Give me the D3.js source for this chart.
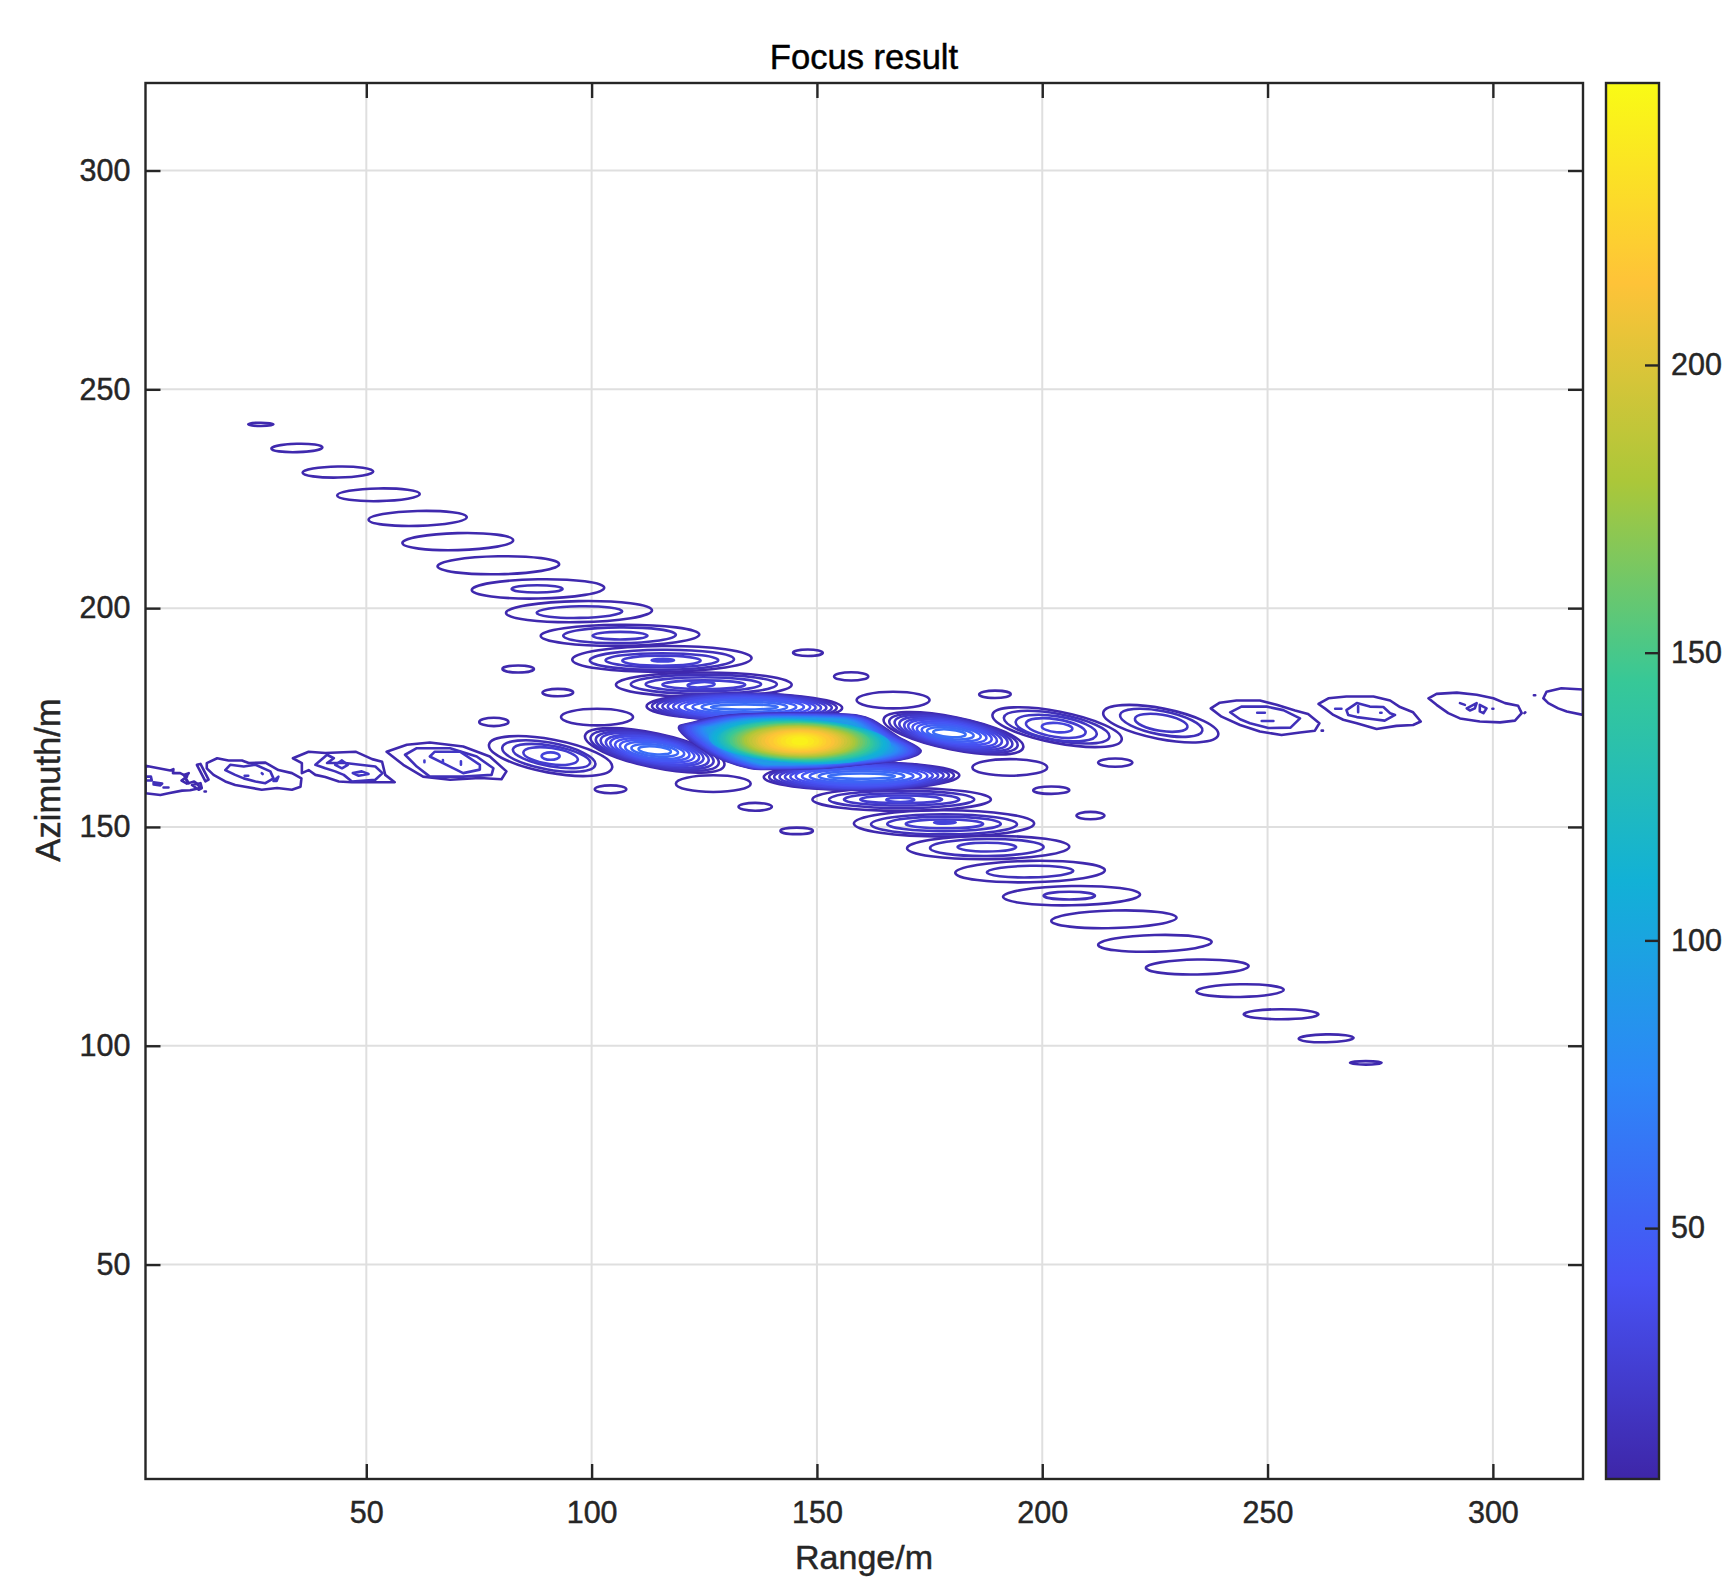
<!DOCTYPE html>
<html>
<head>
<meta charset="utf-8">
<title>Focus result</title>
<script src="https://cdn.jsdelivr.net/npm/d3@7"></script>
<style>
  body { margin: 0; background: #fff; }
  text { font-family: "Liberation Sans", Arial, sans-serif; fill: #262626; stroke: #262626; stroke-width: .45; }
</style>
</head>
<body>
<svg id="chart" width="1735" height="1592"></svg>
<script>
/** Axis ticks and colour limits */
const xTicks = [50, 100, 150, 200, 250, 300];
const yTicks = [50, 100, 150, 200, 250, 300];
const barTicks = [50, 100, 150, 200];
const axisLimits = [1, 320];
const levelLimits = [6.4, 249];
const parulaStops = ["#3e26a8", "#4752f4", "#2d87f7", "#12b1d6", "#37c897", "#abc739", "#fec338", "#f9fb15"];

/** Main lobe, read ring by ring from the centre outwards */
const mainCentre = [146.2, 169.6];
const mainLevels = [243,238,233,228,223,218,213,208,204,199,194,189,184,179,174,169,164,159,155,150,145,140,135,130,125,120,115,110,106,101,96,91,86,81,76,71,66,61,57,52,47,42,37,32,27,22,17,12];
const mainHalfRange = [1.6,2.9,4,4.8,5.6,6.7,7.5,8.3,9,9.6,10.3,11,11.5,12.1,12.6,13.1,13.7,14.2,14.7,15.3,15.7,16.1,16.5,16.9,17.4,17.8,18.2,18.8,19.2,19.6,20,20.4,20.8,21.2,21.6,22,22.5,22.9,23.3,23.7,24.1,24.7,25.1,25.5,25.9,26.3,26.5,26.8];
const mainHalfAzimuth = [.62,.99,1.3,1.55,1.8,2.05,2.23,2.42,2.6,2.73,2.91,3.04,3.16,3.29,3.41,3.53,3.66,3.78,3.84,3.97,4.03,4.15,4.22,4.34,4.4,4.46,4.59,4.65,4.71,4.77,4.84,4.96,5.02,5.08,5.15,5.27,5.33,5.39,5.52,5.58,5.64,5.77,5.83,5.89,6.01,6.08,6.14,6.2];
const mainTilt = [.5,.5,.5,.5,.5,.5,.5,.5,.5,.5,.5,1,1,1,1,1,1,1,1,1,2,2,2,2,2,2,2,2,3,3,3,3,3,3,3,4,4,4,4,4,4,4,5.5,5.5,5.5,5.5,5.5,5.5];
// outline of the lower main lobe rings, as fractions of the half sizes (right, up)
const mainOutlineLevel = 91;
const mainOutline = [[-1,.475],[-.9,.66],[-.65,.91],[-.29,1.01],[.15,1.01],[.48,.94],[.62,.72],[.81,.16],[1,-.34],[.86,-.65],[.59,-.81],[.17,-.99],[-.24,-1.02],[-.41,-.99],[-.65,-.65],[-.85,-.15]];
const mainFillFloor = 30;

/** Rings as [level, range, azimuth, half range, half azimuth, tilt] */
const upperArmRings = [
  [9,26.6,242,2.8,.38,0],[9,34.6,236.6,5.66,.95,-1.5],[9,43.7,231.1,7.84,1.26,-1],[9,52.7,225.9,9.17,1.45,-1],
  [9,61.4,220.5,10.9,1.71,-1.5],[9,70.3,215.2,12.3,1.94,-1.5],[9,79.3,209.8,13.5,2.05,-1],
  [9,88.1,204.4,14.7,2.2,-1],[14,87.9,204.4,5.66,.84,0],
  [9,97.2,199.2,16.2,2.4,-1],[14,97.3,199.1,9.5,1.33,-1],
  [9,106.3,193.8,17.6,2.4,-.5],[14,106.2,193.8,12.5,1.8,-.5],[19,106.3,193.7,6.1,.87,0],
  [9,115.6,188.4,19.9,2.95,-.5],[14,115.6,188.2,16,2.3,-.5],[19,115.6,188.1,12.5,1.6,0],[24,115.5,188,8.7,1.15,0],[29,115.8,188.1,2.5,.3,0],
  [9,124.9,182.5,19.5,2.8,0],[14,124.9,182.6,16.2,2.2,0],[19,124.8,182.6,12.8,1.6,0],[24,124.9,182.5,9.2,1,0],[29,124.3,182.5,3,.6,-3],
  [9,133.9,177.4,21.7,3.1,.5],[14,133.9,177.4,20.5,3.05,.5],[19,133.9,177.4,19.4,2.95,.5],[24,133.9,177.4,18.2,2.85,.5],[29,133.9,177.4,17,2.7,.5],
  [34,133.9,177.4,15.8,2.5,.5],[39,133.9,177.4,14.6,2.3,0],[44,133.9,177.4,13.2,2,0],[49,133.9,177.4,11.5,1.65,0],[54,133.9,177.4,9.5,1.2,0],[59,133.9,177.4,7.4,.6,0]
];
const lowerArmRings = [
  [9,159.9,161.6,21.7,3.1,-.5],[14,159.9,161.6,20.5,3.05,-.5],[19,159.9,161.6,19.4,2.95,-.5],[24,159.9,161.6,18.2,2.85,-.5],[29,159.9,161.6,17,2.7,-.5],
  [34,159.9,161.6,15.8,2.5,-.5],[39,159.9,161.6,14.6,2.3,0],[44,159.9,161.6,13.2,2,0],[49,159.9,161.6,11.5,1.65,0],[54,159.9,161.6,9.5,1.2,0],[59,159.9,161.6,7.4,.6,0],
  [9,168.8,156.3,19.8,2.6,0],[14,168.8,156.3,16.1,2,0],[19,168.8,156.3,12.8,1.4,0],[24,168.7,156.3,9.1,.9,0],[29,168.5,156.2,3.1,.5,0],
  [9,178.2,150.8,20,3,0],[14,178.2,150.6,16.2,2.3,0],[19,178.2,150.7,12.6,1.65,0],[24,178.3,150.7,8.6,1,0],[29,178.4,151,2.4,.27,0],
  [9,188,145.3,18,2.65,-.5],[14,187.7,145.3,12.6,1.95,-.5],[19,187.7,145.4,6.5,1,0],
  [9,197.3,139.8,16.6,2.44,-1],[14,197.3,139.8,9.6,1.33,-1],
  [9,206.5,134.3,15.2,2.2,-1],[14,206,134.3,5.7,.88,0],
  [9,215.9,128.9,13.9,2,-1.5],[9,225,123.4,12.6,1.9,-1.5],[9,234.4,118,11.4,1.7,-1],[9,243.9,112.6,9.7,1.45,-1],
  [9,253,107.2,8.3,1.15,0],[9,263,101.7,6.1,.9,-1],[9,271.8,96.1,3.5,.4,0]
];
const sideLobeRings = [
  [9,114,167.5,15.8,3.9,12],[14,114,167.5,14.5,3.7,11.5],[19,114,167.5,13.3,3.5,11],[24,114,167.5,12.2,3.25,11],[29,114,167.5,11,3,10],
  [34,114,167.5,10,2.75,10],[39,114,167.5,8.9,2.45,9],[44,114,167.5,7.8,2.15,8],[49,114,167.5,6.6,1.8,7],[54,114,167.5,5.2,1.35,6],[59,114,167.5,3.6,.9,5],
  [9,180.3,171.4,15.8,3.7,11.4],[14,180.3,171.4,14.5,3.55,11],[19,180.3,171.4,13.3,3.35,11],[24,180.3,171.4,12.2,3.15,10.5],[29,180.2,171.4,11,2.9,10],
  [34,180.1,171.4,10,2.65,10],[39,180,171.4,8.9,2.35,9],[44,179.9,171.4,7.8,2.05,8],[49,179.8,171.4,6.6,1.7,7],[54,179.6,171.4,5.2,1.3,6],[59,179.4,171.4,3.6,.85,5],
  [9,203.3,172.8,14.6,3.6,11],[14,203.2,172.8,11.9,3.05,10.5],[19,203.1,172.6,9.1,2.7,9],[24,203,172.6,6.7,2,9],[29,203.3,172.7,3.4,1.05,5],
  [9,226.3,173.6,13,3.5,11],[14,226.4,173.8,9.3,2.7,11],[19,226.4,173.8,5.9,1.85,9],
  [9,90.9,166.2,13.9,3.8,10.6],[14,90.5,166.2,10.5,3.07,10.5],[19,91.1,166.2,8.7,2.35,10],[24,90.9,166.2,6.1,1.85,8],[29,90.9,166.2,2,.85,0]
];
const satelliteRings = [
  [9,83.7,186.1,3.5,.8,0],[9,92.5,180.7,3.4,.85,0],[9,78.3,174,3.25,.95,0],[9,101.2,175.1,8,1.9,0],[9,104.2,158.6,3.5,.9,0],
  [9,127,159.9,8.3,1.9,0],[9,136.3,154.6,3.7,.9,0],[9,145.5,149.1,3.6,.75,0],[9,148,189.8,3.3,.75,0],[9,157.6,184.4,3.8,.95,0],
  [9,166.9,179,8.1,1.9,0],[9,189.5,180.3,3.5,.85,0],[9,192.8,163.6,8.3,1.9,0],[9,202,158.4,4,.85,0],[9,216.2,164.7,3.8,.95,0],[9,210.7,152.6,3.1,.85,0]
];

/** Noisy far lobes, read point by point as [range, azimuth] */
const farLeftLines = [
  [9,[[1,164],[3.9,163.4],[6.5,162.9],[7.2,163.2],[7.1,162.3],[8.7,162.3],[10.2,161.5],[9,160.6],[10.2,159.9],[11.8,160.4],[12.4,159.9],[13.2,158.9],[10.9,158.4],[9.1,158.3],[6.1,157.7],[4.3,157.3],[1,157.7]]],
  [14,[[1,161.5],[2.2,161.5],[2.4,160.6],[1,160.6]]],[14,[[2.8,160.2],[4.7,159.9],[4.3,159.5],[2.8,159.7]]],[14,[[5,159],[6.1,159]]],
  [9,[[9.5,161.9],[10.6,162.3],[9.8,161.1],[10.6,160]]],[9,[[11.3,159.6],[13.2,160],[13.5,158.9],[12.8,158.5]]],
  [9,[[12.4,164.2],[13.2,164.4],[15,160.8],[14.3,160.4]]],[9,[[14.1,158.1],[14.4,158.1]]],
  [9,[[14.6,164.6],[16.9,165.7],[19.4,165.2],[22.4,165.2],[23.9,164.6],[27.6,164.7],[30.5,163],[33.5,162.3],[35.6,161.1],[35.4,159.2],[33.5,158.5],[30.2,158.9],[26.8,158.5],[23.1,159.2],[20.9,159.6],[18.7,160.4],[16.1,161.9],[14.6,163.4]]],
  [14,[[18.7,163],[19.8,164.2],[22.8,163.8],[25.4,164.2],[28.7,162.7],[29.4,161.1],[27.6,160],[25.4,160.4],[22.8,161.1],[20.9,161.9]]],
  [19,[[26.8,162.3],[27,162.1]]],[19,[[29.4,160.5],[30.5,161.5],[30.1,160.5]]],[19,[[23,161.7],[23.8,161.7]]],
  [9,[[33.7,165.7],[37.2,167.2],[40.9,166.9],[47.6,167.2],[51.3,165.5],[53.5,164.9],[54.2,161.9],[56.3,160.2],[52.7,160.2],[46.8,160.2],[43.9,160.4],[40.9,161.4],[38.7,161.9],[37.2,163],[35.7,162.3],[35.7,164.6]]],
  [14,[[38.7,164.2],[41.3,166.5],[42.8,165.7],[41.3,164.6],[45.3,164.6],[52,163.8],[53.6,162.3],[52,160.8],[46.8,160.4],[45,161.9],[43.1,162.7],[40.9,163.4]]],
  [19,[[43.1,164.2],[44.6,165.2],[45.9,164.2],[44.6,163.4]]],[19,[[47,162.3],[49,162.7],[50.5,162.1],[48.3,161.7]]],
  [9,[[54.5,167.2],[59,168.8],[64.1,169.3],[71.5,168.4],[77.4,166.1],[81.1,162.7],[80,160.9],[75.2,161.2],[68.6,160.8],[62.6,161.5],[58.2,164.2]]],
  [14,[[58.6,166.5],[61.2,168],[68.6,168],[74.5,166.1],[78.2,163.4],[77.8,161.9],[71.5,161.5],[64.1,161.5],[61.2,163.8]]],
  [19,[[64.1,166.1],[65.2,167.2],[70.8,167.2],[75.2,164.2],[75.2,163.1],[71.5,162.3],[67.8,164.2]]],
  [24,[[62.9,165.2],[62.9,164.8]]],[24,[[67,165.3],[67,164.7]]],[24,[[71,165],[71,164.2]]]
];
const farRightLines = [
  [9,[[237.4,177.1],[239.4,178.4],[243.1,178.9],[248.3,178.9],[252,177.9],[256.1,176.6],[259,175.8],[261.5,173.7],[260.5,172],[257.2,171.6],[253.1,171],[248.3,171.8],[243.9,173.3],[239.8,175.2]]],
  [14,[[241.7,176.2],[244.2,177.5],[249.8,177.5],[253.5,176.7],[257.2,174.8],[255.1,172.7],[250.2,172.6],[246.1,173.7],[243.9,174.6]]],
  [19,[[247.7,176.1],[249.4,176.1]]],[19,[[248.7,174.2],[251.3,174.2]]],[9,[[262,172],[262.3,172]]],
  [9,[[261.3,178.1],[263.5,179.4],[267.5,179.8],[273.5,179.8],[277.2,178.9],[279.4,177.4],[282.3,176.2],[284,174.1],[282.3,173.3],[278.6,173.1],[274.2,172.4],[269.8,173.7],[266.8,174.5],[264.6,175.6],[262.7,177.1]]],
  [14,[[267.5,176.7],[269.8,178.3],[272.7,177.5],[275.7,177.4],[277.2,176],[278.3,175.6],[276,174.3],[273.5,174.6],[269.8,175.1],[267.9,175.6]]],
  [19,[[265,177],[266.4,177]]],[19,[[270.1,177.6],[270.1,176.2]]],[19,[[275,176.1],[275.3,176.1]]],
  [9,[[285.7,179.4],[287.5,180.4],[292,180.7],[296.4,180.2],[300.1,179.4],[302.7,178.3],[305.6,177.7],[306.4,176],[304.9,174.3],[301.6,173.9],[297.1,174.1],[292.7,174.8],[290.1,176],[287.5,177.9]]],
  [14,[[292.7,178.3],[293.8,177.9]]],[14,[[294.2,177.1],[296.4,178.3],[296,177.1],[294.9,176.6]]],[14,[[297.1,177.9],[298.6,177.1],[297.9,176],[297.1,176.4]]],
  [14,[[299.9,177],[300.1,177]]],[9,[[307,176],[307.2,176.2]]],[9,[[309.1,180.1],[309.4,180.1]]],
  [9,[[311.2,179.4],[311.9,180.9],[315.2,181.7],[320,181.4],[320,175.6],[316.4,176.4],[314.5,177.1],[312.3,178.3]]]
];

/** Draw the chart */
const margin = { left: 145.5, right: 152, top: 83, bottom: 113 };
const plotRight = 1735 - margin.right;
const plotBottom = 1592 - margin.bottom;
const barX = 1606, barWidth = 53;

const svg = d3.select("#chart");
const x = d3.scaleLinear().domain(axisLimits).range([margin.left, plotRight]);
const y = d3.scaleLinear().domain(axisLimits).range([plotBottom, margin.top]);
const barY = d3.scaleLinear().domain(levelLimits).range([plotBottom, margin.top]);
const color = d3.scaleLinear()
  .domain(parulaStops.map((c, i) => levelLimits[0] + i * (levelLimits[1] - levelLimits[0]) / (parulaStops.length - 1)))
  .range(parulaStops);

// grid lines
svg.append("g").selectAll("line").data(xTicks).join("line")
  .attr("x1", x).attr("x2", x).attr("y1", margin.top).attr("y2", plotBottom)
  .attr("stroke", "#dfdfdf").attr("stroke-width", 2);
svg.append("g").selectAll("line").data(yTicks).join("line")
  .attr("y1", y).attr("y2", y).attr("x1", margin.left).attr("x2", plotRight)
  .attr("stroke", "#dfdfdf").attr("stroke-width", 2);

svg.append("clipPath").attr("id", "plot-clip").append("rect")
  .attr("x", margin.left).attr("y", margin.top)
  .attr("width", plotRight - margin.left).attr("height", plotBottom - margin.top);

const marks = svg.append("g").attr("clip-path", "url(#plot-clip)")
  .attr("fill", "none").attr("stroke-width", 2.6).attr("stroke-linejoin", "round");

// far lobes first, they sit below everything else
const line = d3.line().x(d => x(d[0])).y(d => y(d[1])).curve(d3.curveLinearClosed);
marks.append("g").selectAll("path").data(farLeftLines.concat(farRightLines)).join("path")
  .attr("d", d => line(d[1]))
  .attr("stroke", d => color(d[0]));

const rings = upperArmRings.concat(lowerArmRings, sideLobeRings, satelliteRings)
  .sort((a, b) => a[0] - b[0]);

marks.append("g").selectAll("ellipse").data(rings).join("ellipse")
  .attr("rx", d => x(d[1] + d[3]) - x(d[1]))
  .attr("ry", d => y(d[2]) - y(d[2] + d[4]))
  .attr("transform", d => "translate(" + x(d[1]) + "," + y(d[2]) + ") rotate(" + d[5] + ")")
  .attr("stroke", d => color(d[0]));

// main lobe from lowest level up: outer rings follow the outline, inner ones are ellipses
const outlineLine = d3.line().x(d => x(d[0])).y(d => y(d[1])).curve(d3.curveCardinalClosed.tension(0));
const mainOrder = d3.range(mainLevels.length).reverse();
const mainGroup = marks.append("g");
mainOrder.forEach(function(i) {
  const level = mainLevels[i];
  const fill = level >= mainFillFloor ? color(level) : "none";
  if (level <= mainOutlineLevel) {
    const pts = mainOutline.map(p => [mainCentre[0] + p[0] * mainHalfRange[i], mainCentre[1] + p[1] * mainHalfAzimuth[i]]);
    mainGroup.append("path").attr("d", outlineLine(pts)).attr("stroke", color(level)).attr("fill", fill);
  } else {
    mainGroup.append("ellipse")
      .attr("rx", x(mainCentre[0] + mainHalfRange[i]) - x(mainCentre[0]))
      .attr("ry", y(mainCentre[1]) - y(mainCentre[1] + mainHalfAzimuth[i]))
      .attr("transform", "translate(" + x(mainCentre[0]) + "," + y(mainCentre[1]) + ") rotate(" + mainTilt[i] + ")")
      .attr("stroke", color(level)).attr("fill", fill);
  }
});

// axes with ticks pointing inwards on all four sides
const tickLen = 15;
function styleAxis(g) {
  g.selectAll("path").remove();
  g.selectAll("line").attr("stroke", "#262626").attr("stroke-width", 2.4);
  g.selectAll("text").attr("font-size", 30.5).style("font-family", "'Liberation Sans', Arial, sans-serif");
}
const fmt = d3.format("d");
svg.append("g").attr("transform", "translate(0," + plotBottom + ")")
  .call(d3.axisBottom(x).tickValues(xTicks).tickFormat(fmt).tickSize(-tickLen).tickPadding(tickLen + 7))
  .call(styleAxis);
svg.append("g").attr("transform", "translate(0," + margin.top + ")")
  .call(d3.axisTop(x).tickValues(xTicks).tickFormat("").tickSize(-tickLen))
  .call(styleAxis);
svg.append("g").attr("transform", "translate(" + margin.left + ",0)")
  .call(d3.axisLeft(y).tickValues(yTicks).tickFormat(fmt).tickSize(-tickLen).tickPadding(tickLen + 0))
  .call(styleAxis);
svg.append("g").attr("transform", "translate(" + plotRight + ",0)")
  .call(d3.axisRight(y).tickValues(yTicks).tickFormat("").tickSize(-tickLen))
  .call(styleAxis);

svg.append("rect")
  .attr("x", margin.left).attr("y", margin.top)
  .attr("width", plotRight - margin.left).attr("height", plotBottom - margin.top)
  .attr("fill", "none").attr("stroke", "#262626").attr("stroke-width", 2.4);

// titles
svg.append("text").attr("x", 864).attr("y", 69).attr("text-anchor", "middle")
  .attr("font-size", 34.6).style("fill", "#000").style("stroke", "#000").text("Focus result");
svg.append("text").attr("x", 864).attr("y", 1569).attr("text-anchor", "middle")
  .attr("font-size", 34).text("Range/m");
svg.append("text").attr("transform", "translate(60,780) rotate(-90)").attr("text-anchor", "middle")
  .attr("font-size", 34.6).text("Azimuth/m");

// colour bar
const gradient = svg.append("defs").append("linearGradient").attr("id", "parula")
  .attr("x1", 0).attr("x2", 0).attr("y1", 1).attr("y2", 0);
gradient.selectAll("stop").data(parulaStops).join("stop")
  .attr("offset", (d, i) => i / (parulaStops.length - 1))
  .attr("stop-color", d => d);
svg.append("rect")
  .attr("x", barX).attr("y", margin.top).attr("width", barWidth).attr("height", plotBottom - margin.top)
  .attr("fill", "url(#parula)").attr("stroke", "#262626").attr("stroke-width", 2.4);
svg.append("g").attr("transform", "translate(" + (barX + barWidth) + ",0)")
  .call(d3.axisRight(barY).tickValues(barTicks).tickFormat(fmt).tickSize(-14).tickPadding(12))
  .call(styleAxis);
</script>
</body>
</html>
